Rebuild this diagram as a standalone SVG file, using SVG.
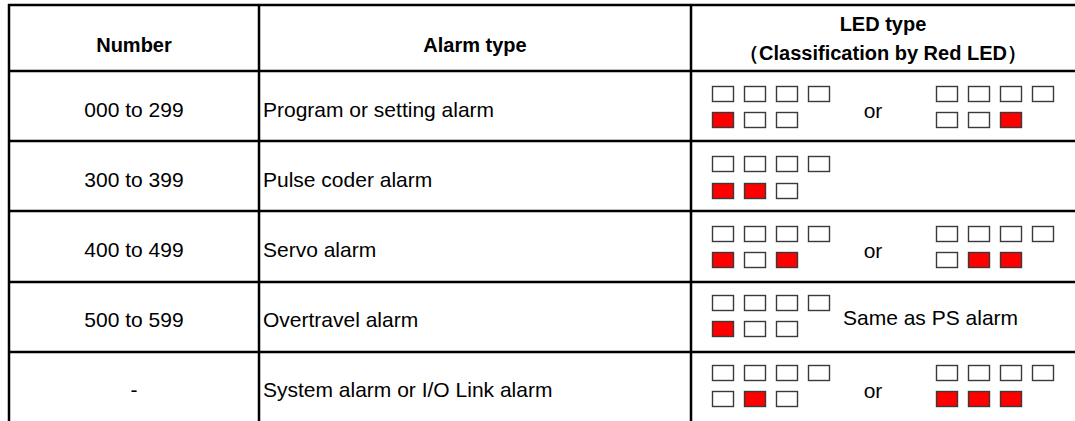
<svg xmlns="http://www.w3.org/2000/svg" width="1075" height="421" viewBox="0 0 1075 421">
<defs>
<style>
.t{font-family:"Liberation Sans",Arial,sans-serif;font-size:21px;fill:#000}
.h{font-weight:bold;text-anchor:middle;font-size:20px}
.c{text-anchor:middle}
.ln{stroke:#000;stroke-width:2.5;fill:none}
.led{fill:#fff;stroke:#3a3a3a;stroke-width:1.4}
.on{fill:#f00;stroke:#3a3a3a;stroke-width:1.4}
</style>
<g id="top4">
<rect class="led" x="0" y="0" width="21" height="15"/>
<rect class="led" x="32" y="0" width="21" height="15"/>
<rect class="led" x="64" y="0" width="21" height="15"/>
<rect class="led" x="96" y="0" width="21" height="15"/>
</g>
</defs>
<rect width="1075" height="421" fill="#fff"/>
<g id="grid">
<line class="ln" x1="8" y1="5" x2="1075" y2="5"/>
<line class="ln" x1="8" y1="71" x2="1075" y2="71"/>
<line class="ln" x1="8" y1="141" x2="1075" y2="141"/>
<line class="ln" x1="8" y1="211" x2="1075" y2="211"/>
<line class="ln" x1="8" y1="282" x2="1075" y2="282"/>
<line class="ln" x1="8" y1="352" x2="1075" y2="352"/>
<line class="ln" x1="9" y1="4" x2="9" y2="421"/>
<line class="ln" x1="259" y1="4" x2="259" y2="421"/>
<line class="ln" x1="691" y1="4" x2="691" y2="421"/>
</g>
<g id="header">
<text class="t h" x="134" y="52">Number</text>
<text class="t h" x="475" y="52">Alarm type</text>
<text class="t h" x="883" y="31">LED type</text>
<text class="t h" x="883" y="60">（Classification by Red LED）</text>
</g>
<g id="row1">
<text class="t c" x="134" y="117">000 to 299</text>
<text class="t" x="263" y="117">Program or setting alarm</text>
<use href="#top4" x="712.5" y="86.5"/>
<rect class="on" x="712.5" y="112.5" width="21" height="15"/>
<rect class="led" x="744.5" y="112.5" width="21" height="15"/>
<rect class="led" x="776.5" y="112.5" width="21" height="15"/>
<text class="t c" x="873" y="118">or</text>
<use href="#top4" x="936.5" y="86.5"/>
<rect class="led" x="936.5" y="112.5" width="21" height="15"/>
<rect class="led" x="968.5" y="112.5" width="21" height="15"/>
<rect class="on" x="1000.5" y="112.5" width="21" height="15"/>
</g>
<g id="row2">
<text class="t c" x="134" y="187">300 to 399</text>
<text class="t" x="263" y="187">Pulse coder alarm</text>
<use href="#top4" x="712.5" y="156.5"/>
<rect class="on" x="712.5" y="183.5" width="21" height="15"/>
<rect class="on" x="744.5" y="183.5" width="21" height="15"/>
<rect class="led" x="776.5" y="183.5" width="21" height="15"/>
</g>
<g id="row3">
<text class="t c" x="134" y="257">400 to 499</text>
<text class="t" x="263" y="257">Servo alarm</text>
<use href="#top4" x="712.5" y="226.5"/>
<rect class="on" x="712.5" y="252.5" width="21" height="15"/>
<rect class="led" x="744.5" y="252.5" width="21" height="15"/>
<rect class="on" x="776.5" y="252.5" width="21" height="15"/>
<text class="t c" x="873" y="258">or</text>
<use href="#top4" x="936.5" y="226.5"/>
<rect class="led" x="936.5" y="252.5" width="21" height="15"/>
<rect class="on" x="968.5" y="252.5" width="21" height="15"/>
<rect class="on" x="1000.5" y="252.5" width="21" height="15"/>
</g>
<g id="row4">
<text class="t c" x="134" y="327">500 to 599</text>
<text class="t" x="263" y="327">Overtravel alarm</text>
<use href="#top4" x="712.5" y="295.5"/>
<rect class="on" x="712.5" y="321.5" width="21" height="15"/>
<rect class="led" x="744.5" y="321.5" width="21" height="15"/>
<rect class="led" x="776.5" y="321.5" width="21" height="15"/>
<text class="t" x="843" y="325">Same as PS alarm</text>
</g>
<g id="row5">
<text class="t c" x="134" y="397">-</text>
<text class="t" x="263" y="397">System alarm or I/O Link alarm</text>
<use href="#top4" x="712.5" y="365.5"/>
<rect class="led" x="712.5" y="391.5" width="21" height="15"/>
<rect class="on" x="744.5" y="391.5" width="21" height="15"/>
<rect class="led" x="776.5" y="391.5" width="21" height="15"/>
<text class="t c" x="873" y="398">or</text>
<use href="#top4" x="936.5" y="365.5"/>
<rect class="on" x="936.5" y="391.5" width="21" height="15"/>
<rect class="on" x="968.5" y="391.5" width="21" height="15"/>
<rect class="on" x="1000.5" y="391.5" width="21" height="15"/>
</g>
</svg>
